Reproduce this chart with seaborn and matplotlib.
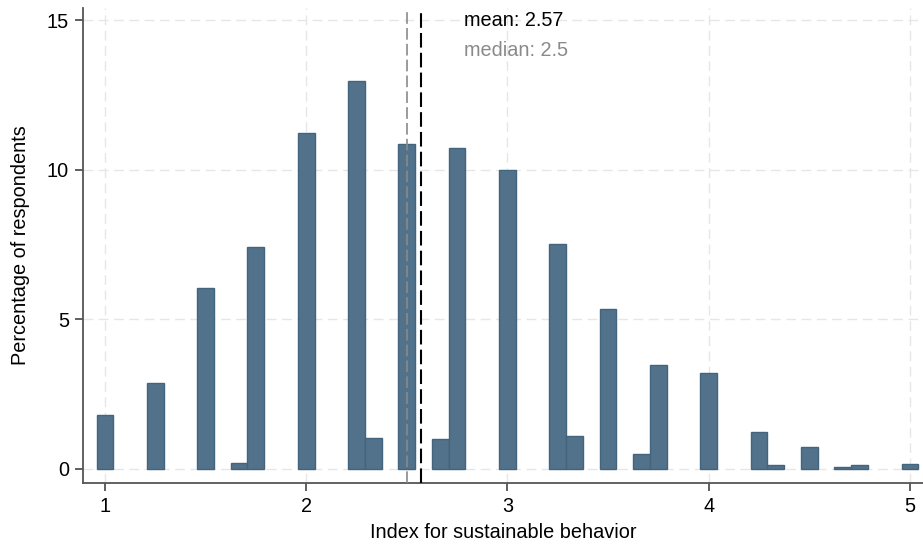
import matplotlib
matplotlib.use("Agg")
import matplotlib.pyplot as plt
import seaborn as sns
import pandas as pd

# Index scores (steps of 1/12) and share of respondents at each score, in percent
scores = [1.0, 1.25, 1.5, 5/3, 1.75, 2.0, 2.25, 7/3, 2.5, 8/3, 2.75, 3.0,
          3.25, 10/3, 3.5, 11/3, 3.75, 4.0, 4.25, 13/3, 4.5, 14/3, 4.75, 5.0]
percent = [1.80, 2.87, 6.05, 0.20, 7.43, 11.23, 12.96, 1.03, 10.86, 0.99, 10.72, 9.99,
           7.51, 1.10, 5.34, 0.50, 3.46, 3.21, 1.23, 0.13, 0.75, 0.07, 0.13, 0.17]

mean_value = 2.57
median_value = 2.5

x_ticks = [1, 2, 3, 4, 5]
y_ticks = [0, 5, 10, 15]

df = pd.DataFrame({"score": scores, "pct": percent})

sns.set_theme(style="white")
plt.rcParams["font.family"] = ["Liberation Sans", "DejaVu Sans"]

FS = 14.3

fig = plt.figure(figsize=(9.23, 5.47), dpi=100)
ax = fig.add_axes([0.0899, 0.117, 0.9101, 0.868])

grid_kw = dict(color="#e6e6e6", linewidth=1.0, linestyle=(0, (7, 4)), zorder=0)
for xv in x_ticks:
    ax.axvline(xv, **grid_kw)
for yv in y_ticks:
    ax.axhline(yv, **grid_kw)

sns.barplot(data=df, x="score", y="pct", native_scale=True, width=1.0,
            color="#51728a", saturation=1, edgecolor="#42647c", linewidth=1.0,
            errorbar=None, ax=ax, zorder=2)

ax.axvline(median_value, color="#8a8a8a", linewidth=1.2,
           linestyle=(0, (7, 2.5)), zorder=3)
ax.axvline(mean_value, color="black", linewidth=1.5,
           linestyle=(0, (7, 2.5)), zorder=3)

ax.text(2.785, 15.0, f"mean: {mean_value}", color="black", fontsize=FS,
        va="center", ha="left")
ax.text(2.785, 14.0, f"median: {median_value}", color="#8a8a8a", fontsize=FS,
        va="center", ha="left")

ax.set_xlim(0.891, 5.065)
ax.set_ylim(-0.47, 15.4)
ax.set_xticks(x_ticks)
ax.set_yticks(y_ticks)
ax.set_xticklabels([str(t) for t in x_ticks])
ax.set_yticklabels([str(t) for t in y_ticks])

ax.set_xlabel("Index for sustainable behavior", fontsize=FS, color="black", labelpad=5)
ax.set_ylabel("Percentage of respondents", fontsize=FS, color="black", labelpad=12)

for side in ["top", "right"]:
    ax.spines[side].set_visible(False)
for side in ["left", "bottom"]:
    ax.spines[side].set_color("#555555")
    ax.spines[side].set_linewidth(1.3)

ax.tick_params(axis="both", which="major", direction="out", length=6, width=1.2,
               color="#444444", labelsize=FS, labelcolor="black", pad=4,
               bottom=True, left=True)
ax.grid(False)

fig.savefig("out.png", dpi=100)
